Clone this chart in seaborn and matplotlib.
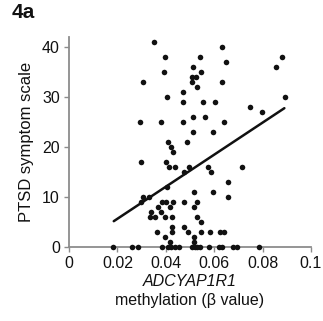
import matplotlib
matplotlib.use("Agg")
import matplotlib.pyplot as plt
import seaborn as sns
import pandas as pd

# ADCYAP1R1 methylation (beta value) and PTSD symptom scale
methylation = [
    0.0350, 0.0398, 0.0391, 0.0306, 0.0473, 0.0405, 0.0473, 0.0292, 0.0381, 0.0473,
    0.0409, 0.0423, 0.0429, 0.0487, 0.0631, 0.0542, 0.0647, 0.0512, 0.0544, 0.0508,
    0.0525, 0.0508, 0.0632, 0.0529, 0.0552, 0.0605, 0.0512, 0.0563, 0.0642, 0.0512,
    0.0595, 0.0879, 0.0854, 0.0893, 0.0746, 0.0799,
    0.0297, 0.0402, 0.0412, 0.0439, 0.0497, 0.0475, 0.0575, 0.0588, 0.0714, 0.0404,
    0.0656, 0.0656, 0.0594, 0.0518, 0.0306, 0.0332, 0.0297,
    0.0384, 0.0402, 0.0430, 0.0476, 0.0529,
    0.0368, 0.0416, 0.0518,
    0.0340, 0.0381,
    0.0333, 0.0354, 0.0395, 0.0426, 0.0529,
    0.0546,
    0.0426, 0.0476,
    0.0364, 0.0426, 0.0491, 0.0546, 0.0584, 0.0625, 0.0641,
    0.0395, 0.0518,
    0.0419, 0.0518,
    0.0181, 0.0261, 0.0285, 0.0384, 0.0408, 0.0423, 0.0439, 0.0454, 0.0509, 0.0520,
    0.0530, 0.0542, 0.0579, 0.0621, 0.0633, 0.0678, 0.0695, 0.0786,
]
ptsd_scale = [
    41, 38, 35, 33, 31, 30, 29, 25, 25, 25,
    21, 20, 19, 21, 40, 38, 37, 36, 35, 34,
    34, 33, 33, 32, 29, 29, 26, 26, 25, 23,
    23, 38, 36, 30, 28, 27,
    17, 17, 16, 16, 16, 15, 16, 15, 16, 12,
    13, 10, 11, 11, 10, 10, 9,
    9, 9, 9, 9, 9,
    8, 8, 8,
    7, 7,
    6, 6, 6, 6, 6,
    5,
    4, 4,
    3, 3, 3, 3, 3, 3, 3,
    2, 2,
    1, 1,
    0, 0, 0, 0, 0, 0, 0, 0, 0, 0,
    0, 0, 0, 0, 0, 0, 0, 0,
]
# published linear fit
fit_methylation = [0.0185, 0.0890]
fit_ptsd = [5.1, 27.7]

x_ticks = [0, 0.02, 0.04, 0.06, 0.08, 0.1]
x_tick_labels = ["0", "0.02", "0.04", "0.06", "0.08", "0.1"]
y_ticks = [0, 10, 20, 30, 40]

df = pd.DataFrame({"methylation": methylation, "ptsd": ptsd_scale})
fit_df = pd.DataFrame({"methylation": fit_methylation, "ptsd": fit_ptsd})

sns.set_style("white")
plt.rcParams["font.family"] = ["Liberation Sans", "DejaVu Sans"]

fig = plt.figure(figsize=(3.23, 3.21), dpi=100)
ax = fig.add_axes([0.2136, 0.2315, 0.7492, 0.6542])

sns.scatterplot(data=df, x="methylation", y="ptsd", ax=ax, s=16, color="#111111",
                linewidth=0, clip_on=False, zorder=3)
sns.lineplot(data=fit_df, x="methylation", y="ptsd", ax=ax, color="#111111",
             linewidth=1.8, zorder=2)

ax.set_xlim(0, 0.1)
ax.set_ylim(0, 42)
ax.set_xticks(x_ticks)
ax.set_xticklabels(x_tick_labels)
ax.set_yticks(y_ticks)
ax.set_xlabel("")
ax.set_ylabel("")
for side in ["top", "right"]:
    ax.spines[side].set_visible(False)
for side in ["left", "bottom"]:
    ax.spines[side].set_color("#8c8c8c")
    ax.spines[side].set_linewidth(1.3)
ax.tick_params(axis="both", which="major", direction="out", length=3.5, width=1.0,
               color="#8c8c8c", labelsize=11.5, labelcolor="#111111", pad=3,
               bottom=True, left=True)

ax.text(-0.175, 0.5, "PTSD symptom scale", transform=ax.transAxes, rotation=90,
        ha="center", va="center", fontsize=12, color="#111111")
ax.text(0.5, -0.168, "ADCYAP1R1", transform=ax.transAxes, ha="center", va="center",
        fontsize=11.5, style="italic", color="#111111")
ax.text(0.5, -0.258, "methylation (β value)", transform=ax.transAxes, ha="center",
        va="center", fontsize=11.5, color="#111111")
fig.text(0.037, 0.962, "4a", ha="left", va="center", fontsize=15, fontweight="bold",
         color="#111111")

fig.savefig("out.png", dpi=100)
